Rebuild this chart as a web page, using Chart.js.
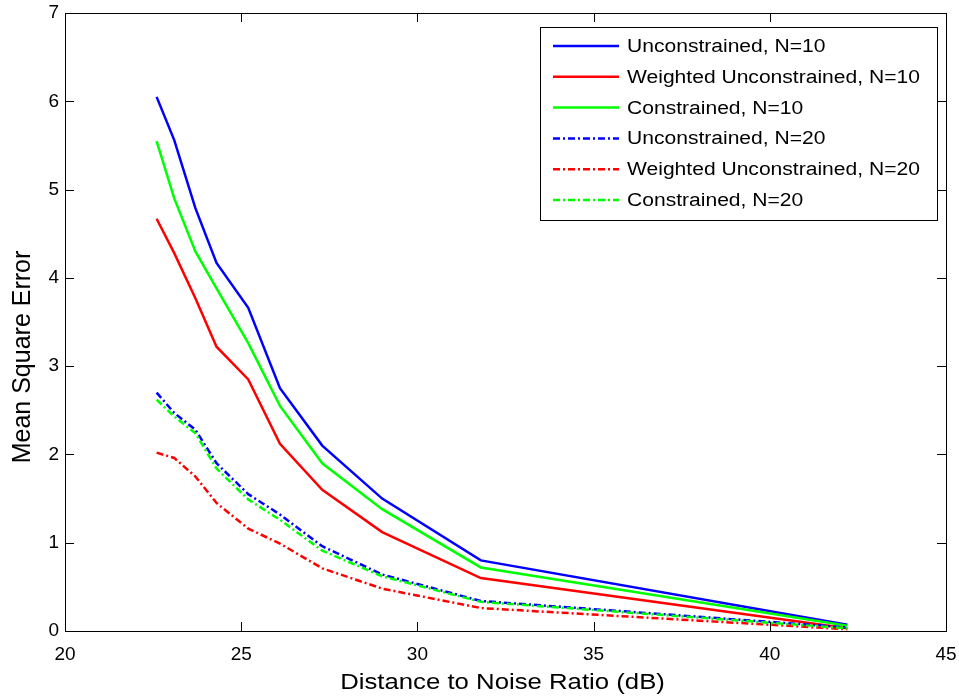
<!DOCTYPE html>
<html>
<head>
<meta charset="utf-8">
<script src="https://cdn.jsdelivr.net/npm/chart.js@4"></script>
<style>
  html, body { margin: 0; padding: 0; background: #fff; }
  #wrap { width: 959px; height: 696px; }
</style>
</head>
<body>
<div id="wrap"><canvas id="mse"></canvas></div>
<script>
// Distance to noise ratio (dB) sample points
const dnr = [22.6, 23.1, 23.7, 24.3, 25.2, 26.1, 27.3, 29.0, 31.8, 42.2];

// mean square error per method
const unc10 = [6.05, 5.56, 4.79, 4.17, 3.66, 2.75, 2.10, 1.50, 0.80, 0.07];
const wunc10 = [4.67, 4.28, 3.77, 3.22, 2.85, 2.12, 1.60, 1.12, 0.60, 0.03];
const con10 = [5.55, 4.90, 4.30, 3.88, 3.26, 2.55, 1.90, 1.38, 0.72, 0.06];
const unc20 = [2.70, 2.47, 2.28, 1.90, 1.55, 1.32, 0.96, 0.64, 0.34, 0.04];
const wunc20 = [2.02, 1.96, 1.75, 1.45, 1.16, 0.99, 0.71, 0.48, 0.26, 0.02];
const con20 = [2.62, 2.43, 2.24, 1.84, 1.49, 1.26, 0.91, 0.62, 0.33, 0.03];

const labels = [
  "Unconstrained, N=10",
  "Weighted Unconstrained, N=10",
  "Constrained, N=10",
  "Unconstrained, N=20",
  "Weighted Unconstrained, N=20",
  "Constrained, N=20"
];
const xTicks = [20, 25, 30, 35, 40, 45];
const yTicks = [0, 1, 2, 3, 4, 5, 6, 7];
const xTitle = "Distance to Noise Ratio (dB)";
const yTitle = "Mean Square Error";

const FONT = "'Liberation Sans', Arial, sans-serif";
const dashDot = [7, 3, 2, 3];

function series(vals, label, color, dash, idx) {
  return {
    label: label,
    data: vals.map((v, i) => ({ x: dnr[i], y: v })),
    borderColor: color,
    borderWidth: 2.5,
    borderDash: dash,
    pointRadius: 0,
    fill: false,
    tension: 0,
    order: 6 - idx
  };
}

// matlab style box, inward ticks, titles and legend
const matlabAxes = {
  id: "matlabAxes",
  afterDraw(chart) {
    const { ctx, chartArea: a, scales } = chart;
    ctx.save();
    ctx.strokeStyle = "#000";
    ctx.lineWidth = 1;
    ctx.strokeRect(a.left + 0.5, a.top + 0.5, a.right - a.left, a.bottom - a.top);
    const tl = 9;
    ctx.beginPath();
    xTicks.forEach(t => {
      const px = Math.round(scales.x.getPixelForValue(t)) + 0.5;
      ctx.moveTo(px, a.bottom); ctx.lineTo(px, a.bottom - tl);
      ctx.moveTo(px, a.top); ctx.lineTo(px, a.top + tl);
    });
    yTicks.forEach(t => {
      const py = Math.round(scales.y.getPixelForValue(t)) + 0.5;
      ctx.moveTo(a.left, py); ctx.lineTo(a.left + tl, py);
      ctx.moveTo(a.right, py); ctx.lineTo(a.right - tl, py);
    });
    ctx.stroke();

    // axis titles (the figure is a little stretched sideways)
    ctx.fillStyle = "#000";
    ctx.textAlign = "center";
    ctx.textBaseline = "middle";
    ctx.font = "22px " + FONT;
    ctx.save();
    ctx.translate((a.left + a.right) / 2 - 3, 683);
    ctx.scale(1.17, 1);
    ctx.fillText(xTitle, 0, 0);
    ctx.restore();
    ctx.save();
    ctx.translate(23, 357);
    ctx.rotate(-Math.PI / 2);
    ctx.font = "25px " + FONT;
    ctx.fillText(yTitle, 0, 0);
    ctx.restore();

    // legend box
    const bx = 540, by = 27, bw = 397, bh = 193;
    ctx.fillStyle = "#fff";
    ctx.fillRect(bx, by, bw, bh);
    ctx.strokeRect(bx + 0.5, by + 0.5, bw, bh);
    ctx.textAlign = "left";
    chart.data.datasets.forEach((ds, i) => {
      const y = by + 19 + i * 30.8;
      ctx.beginPath();
      ctx.strokeStyle = ds.borderColor;
      ctx.lineWidth = 2.5;
      ctx.setLineDash(ds.borderDash || []);
      ctx.moveTo(553, y); ctx.lineTo(619, y);
      ctx.stroke();
      ctx.setLineDash([]);
      ctx.save();
      ctx.translate(627, y + 1);
      ctx.scale(1.17, 1);
      ctx.font = "18px " + FONT;
      ctx.fillStyle = "#000";
      ctx.fillText(ds.label, 0, 0);
      ctx.restore();
    });
    ctx.restore();
  }
};

new Chart(document.getElementById("mse"), {
  type: "line",
  data: {
    datasets: [
      series(unc10, labels[0], "#0000ff", [], 0),
      series(wunc10, labels[1], "#ff0000", [], 1),
      series(con10, labels[2], "#00ff00", [], 2),
      series(unc20, labels[3], "#0000ff", dashDot, 3),
      series(wunc20, labels[4], "#ff0000", dashDot, 4),
      series(con20, labels[5], "#00ff00", dashDot, 5)
    ]
  },
  options: {
    responsive: true,
    maintainAspectRatio: false,
    animation: false,
    layout: { padding: { top: 13, right: 13, left: 0, bottom: 0 } },
    plugins: {
      legend: { display: false },
      tooltip: { enabled: false }
    },
    scales: {
      x: {
        type: "linear",
        min: 20,
        max: 45,
        afterBuildTicks: s => { s.ticks = xTicks.map(v => ({ value: v })); },
        ticks: { color: "#000", font: { family: FONT, size: 19 }, padding: 12, maxRotation: 0 },
        grid: { display: false, drawTicks: false },
        border: { display: false },
        afterFit: s => {
          s.height = 65;
          s.paddingLeft = 0;
          s.paddingRight = 0;
        }
      },
      y: {
        type: "linear",
        min: 0,
        max: 7,
        afterBuildTicks: s => { s.ticks = yTicks.map(v => ({ value: v })); },
        ticks: { color: "#000", font: { family: FONT, size: 19 }, padding: 6 },
        grid: { display: false, drawTicks: false },
        border: { display: false },
        afterFit: s => {
          s.width = 65;
          s.paddingTop = 0;
          s.paddingBottom = 0;
        }
      }
    }
  },
  plugins: [matlabAxes]
});
</script>
</body>
</html>
